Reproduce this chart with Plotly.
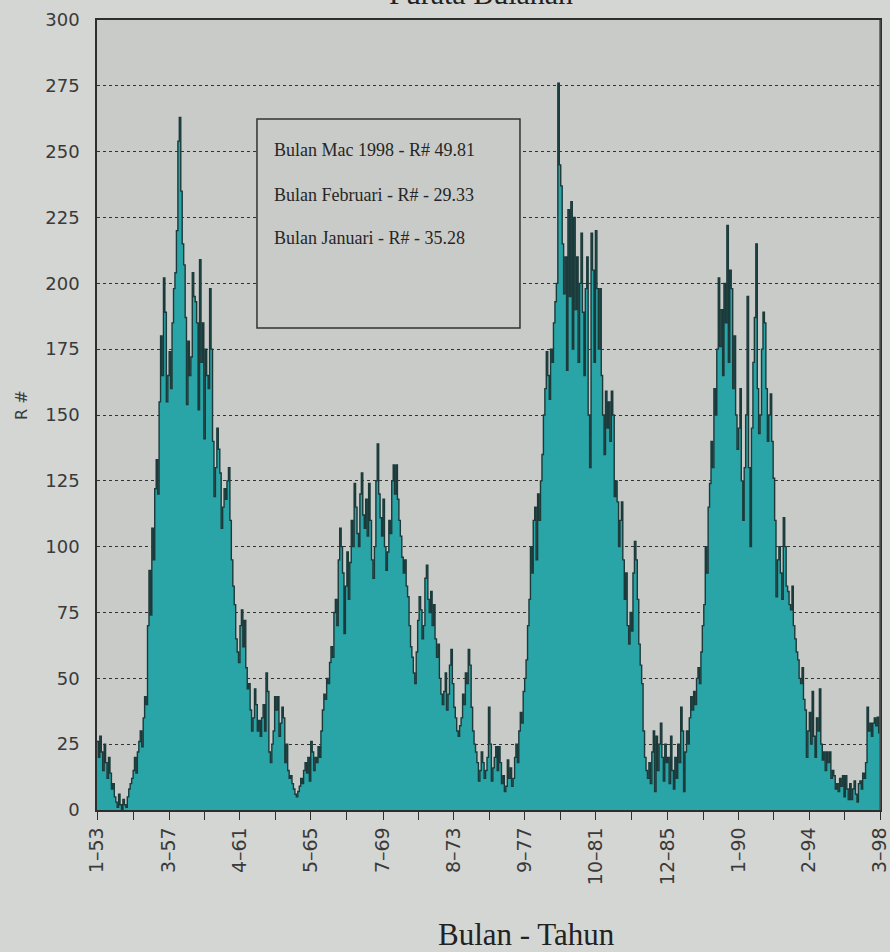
import pandas as pd
import plotly.graph_objects as go

# Monthly R# values (Jan 1953 - Mar 1998)
r_1953_1959 = [
    26, 20, 28, 22, 15, 25, 18, 12, 20, 14, 8, 10,
    5, 3, 1, 6, 2, 0, 4, 2, 1, 5, 8, 10,
    12, 15, 20, 14, 22, 26, 30, 24, 35, 43, 40, 70,
    91, 74, 107, 95, 122, 133, 120, 155, 180, 165, 202, 189,
    155, 165, 174, 160, 185, 198, 204, 220, 254, 263, 235, 215,
    207, 187, 154, 178, 165, 172, 204, 195, 193, 185, 152, 209,
    170, 185, 141, 175, 165, 160, 198, 175, 140, 119, 130, 145,
]
r_1960_1969 = [
    137, 128, 107, 115, 122, 118, 125, 130, 110, 95, 85, 78,
    65, 60, 56, 70, 76, 62, 72, 54, 46, 48, 38, 30,
    35, 46, 40, 30, 34, 28, 35, 40, 30, 52, 45, 22,
    18, 25, 30, 43, 38, 43, 28, 33, 39, 35, 18, 25,
    15, 12, 13, 10, 8, 6, 5, 7, 9, 12, 10, 15,
    18, 14, 20, 11, 26, 22, 15, 20, 18, 24, 20, 30,
    38, 44, 42, 50, 48, 56, 62, 58, 75, 80, 70, 95,
    107, 100, 90, 67, 85, 98, 80, 94, 110, 100, 124, 115,
    105, 100, 120, 128, 112, 107, 118, 104, 124, 110, 95, 88,
    100, 125, 139, 120, 111, 104, 118, 100, 91, 98, 110, 105,
]
r_1970_1979 = [
    125, 131, 120, 131, 118, 110, 104, 96, 90, 95, 85, 81,
    70, 62, 58, 52, 48, 60, 72, 81, 76, 65, 70, 88,
    93, 80, 75, 83, 70, 78, 65, 58, 63, 50, 44, 40,
    45, 52, 38, 44, 55, 61, 48, 39, 35, 30, 28, 32,
    35, 44, 40, 52, 48, 61, 55, 39, 30, 25, 22, 18,
    11, 15, 22, 18, 12, 15, 20, 39, 25, 11, 16, 20,
    24, 15, 24, 18, 10, 13, 7, 9, 19, 12, 16, 9,
    12, 20, 25, 18, 30, 37, 33, 45, 50, 57, 70, 80,
    100, 90, 110, 115, 95, 120, 110, 125, 135, 150, 160, 174,
    165, 156, 175, 170, 185, 193, 200, 276, 245, 237, 215, 196,
]
r_1980_1989 = [
    210, 167, 228, 195, 231, 175, 225, 190, 210, 170, 200, 219,
    189, 165, 198, 210, 150, 130, 219, 205, 170, 220, 198, 175,
    198, 165, 150, 135, 159, 145, 155, 140, 159, 150, 119, 125,
    117, 100, 110, 117, 95, 80, 90, 70, 63, 75, 68, 90,
    102, 95, 80, 63, 55, 48, 30, 20, 15, 12, 18, 10,
    22, 30, 7, 28, 15, 25, 33, 20, 11, 25, 18, 20,
    10, 28, 15, 8, 20, 12, 25, 18, 39, 30, 7, 22,
    30, 25, 35, 43, 38, 45, 40, 50, 54, 48, 60, 70,
    78, 100, 90, 115, 124, 140, 130, 160, 150, 175, 202, 176,
    190, 165, 200, 185, 222, 170, 205, 198, 160, 180, 150, 137,
]
r_1990_1998 = [
    145, 160, 125, 110, 130, 150, 195, 130, 100, 145, 170, 187,
    215, 160, 143, 150, 175, 189, 185, 160, 140, 150, 158, 140,
    126, 110, 81, 95, 100, 90, 80, 111, 100, 85, 83, 78,
    76, 85, 70, 65, 60, 57, 50, 48, 54, 42, 38, 20,
    30, 37, 25, 45, 28, 20, 35, 30, 46, 25, 19, 22,
    15, 22, 18, 22, 12, 15, 13, 8, 10, 7, 12, 9,
    13, 5, 13, 8, 4, 10, 4, 8, 11, 6, 3, 10,
    11, 8, 14, 12, 18, 39, 30, 33, 28, 33, 35, 32,
    35.28, 29.33, 49.81,
]

tick_labels = ["1-53", "3-57", "4-61", "5-65", "7-69", "8-73",
               "9-77", "10-81", "12-85", "1-90", "2-94", "3-98"]

note_lines = ["Bulan Mac 1998 - R# 49.81",
              "Bulan Februari - R# - 29.33",
              "Bulan Januari - R# - 35.28"]

values = r_1953_1959 + r_1960_1969 + r_1970_1979 + r_1980_1989 + r_1990_1998
months = pd.date_range("1953-01-01", periods=len(values), freq="MS")

tick_dates = [pd.Timestamp(year=1900 + int(t.split("-")[1]), month=int(t.split("-")[0]), day=1)
              for t in tick_labels]
# intermediate (unlabelled) tick marks halfway between labels
mid_dates = [tick_dates[k] + (tick_dates[k + 1] - tick_dates[k]) / 2 for k in range(len(tick_dates) - 1)]
all_ticks = tick_dates + mid_dates
all_text = [t.replace("-", "\u2013") for t in tick_labels] + [""] * len(mid_dates)

PAPER = "#d4d6d3"
PLOT = "#c9cbc8"
DARK = "#2e2e2e"

fig = go.Figure()
fig.add_trace(go.Scatter(
    x=months, y=values, mode="lines", line_shape="hv",
    line=dict(color="#1c3a3a", width=1.4),
    fill="tozeroy", fillcolor="#29a4a7",
    showlegend=False, hoverinfo="x+y",
))

fig.update_layout(
    width=890, height=952,
    margin=dict(l=97, r=10, t=20, b=142, autoexpand=False),
    paper_bgcolor=PAPER, plot_bgcolor=PLOT,
    font=dict(family="DejaVu Sans", color="#3a3a3a"),
    showlegend=False,
)

fig.update_xaxes(
    range=[months[0], months[-1]], automargin=False,
    tickmode="array", tickvals=all_ticks, ticktext=all_text,
    ticklabeloverflow="allow",
    tickangle=-90, ticks="outside", ticklen=8, tickcolor=DARK, tickwidth=1.2,
    tickfont=dict(family="DejaVu Sans", size=19, color="#3a3a3a"),
    showgrid=False, showline=True, linecolor=DARK, linewidth=1.5, mirror=True,
    zeroline=False,
)
fig.update_yaxes(
    range=[0, 300], tick0=0, dtick=25, automargin=False,
    ticks="outside", ticklen=12, tickcolor="rgba(0,0,0,0)",
    tickfont=dict(family="DejaVu Sans", size=18, color="#3a3a3a"),
    showgrid=True, gridcolor="#333333", griddash="dot", gridwidth=1.2,
    showline=True, linecolor=DARK, linewidth=1.5, mirror=True,
    zeroline=False,
)

# right border of the plot area
fig.add_shape(type="line", xref="paper", yref="paper", x0=1, x1=1, y0=0, y1=1,
              line=dict(color="#555555", width=1.5), layer="above")

# note box
fig.add_shape(type="rect", xref="paper", yref="paper",
              x0=0.2043, x1=0.5402, y0=0.6101, y1=0.8747,
              fillcolor=PLOT, line=dict(color="#333333", width=1.5), layer="above")
for txt, yy in zip(note_lines, [0.8354, 0.7785, 0.7241]):
    fig.add_annotation(xref="paper", yref="paper", x=0.2235, y=yy, text=txt,
                       showarrow=False, xanchor="left", yanchor="middle",
                       font=dict(family="Liberation Serif", size=18, color="#262626"))

# titles
fig.add_annotation(xref="paper", yref="paper", x=0.49, y=1.0105, text="Purata Bulanan",
                   showarrow=False, xanchor="center", yanchor="bottom",
                   font=dict(family="Liberation Serif", size=30, color="#222222"))
fig.add_annotation(xref="paper", yref="paper", x=0.549, y=-0.158, text="Bulan - Tahun",
                   showarrow=False, xanchor="center", yanchor="middle",
                   font=dict(family="Liberation Serif", size=31, color="#222222"))
fig.add_annotation(xref="paper", yref="paper", x=-0.0958, y=0.5127, text="R #",
                   showarrow=False, textangle=-90, xanchor="center", yanchor="middle",
                   font=dict(family="DejaVu Sans", size=16, color="#3a3a3a"))

fig.write_html(
    "out.html",
    config={"displayModeBar": False},
    post_script="document.body.style.margin='0';document.body.style.overflow='hidden';"
                "document.body.style.background='#d4d6d3';",
)
